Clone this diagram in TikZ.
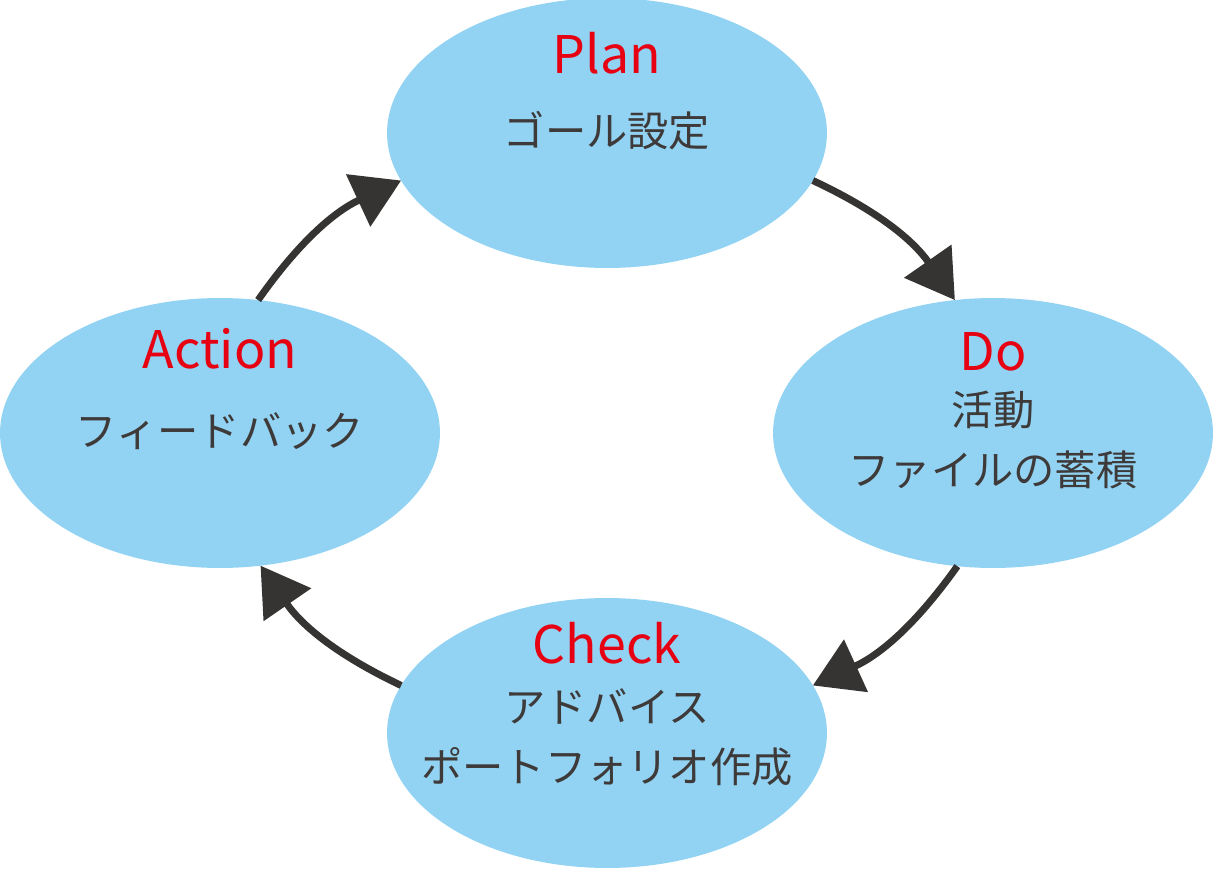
\documentclass[tikz,border=0pt]{standalone}
\usepackage{fontspec}
\setmainfont{Noto Sans CJK JP}
\usepackage{xcolor}
\usepackage{tikz}
\usetikzlibrary{arrows.meta, shapes.geometric}
\definecolor{phaseblue}{HTML}{92D3F3}
\definecolor{titlered}{HTML}{E60012}
\definecolor{inkgray}{HTML}{3E3A39}
\definecolor{arrowgray}{HTML}{363432}

\begin{document}
\begin{tikzpicture}[x=0.02cm, y=-0.02cm,
    phase/.style={ellipse, minimum width=8.8cm, minimum height=5.4cm, inner sep=0pt, outer sep=0pt, fill=phaseblue},
    title/.style={anchor=base, inner sep=0pt, text=titlered, font=\fontsize{29.5}{30}\selectfont},
    desc/.style={anchor=center, inner sep=0pt, text=inkgray, font=\fontsize{23.5}{26}\selectfont},
    arr/.style={-{Triangle[length=27pt, width=32pt]}, line width=4pt, color=arrowgray, bend left=15}
]
    \useasboundingbox (0,0) rectangle (1215,869);

    % Phases
    \node[phase] (plan) at (607, 133) {};
    \node[phase] (do) at (993, 433) {};
    \node[phase] (check) at (607, 733) {};
    \node[phase] (action) at (220, 433) {};

    % Texts
    \node[title] (plant) at (607, 73) {Plan};
    \node[desc] (plan1) at (607, 131) {ゴール設定};

    \node[title] (dot) at (993, 370) {Do};
    \node[desc] (do1) at (993, 410) {活動};
    \node[desc] (do2) at (993, 470) {ファイルの蓄積};

    \node[title] (checkt) at (607, 663) {Check};
    \node[desc] (check1) at (607, 706) {アドバイス};
    \node[desc] (check2) at (607, 767) {ポートフォリオ作成};

    \node[title] (actiont) at (220, 368) {Action};
    \node[desc] (action1) at (220, 431) {フィードバック};

    % Cycle
    \draw[arr] (plan.-13) to (do.106);
    \draw[arr] (do.-105) to (check.13);
    \draw[arr] (check.167) to (action.-73);
    \draw[arr] (action.74) to (plan.193);
\end{tikzpicture}
\end{document}
